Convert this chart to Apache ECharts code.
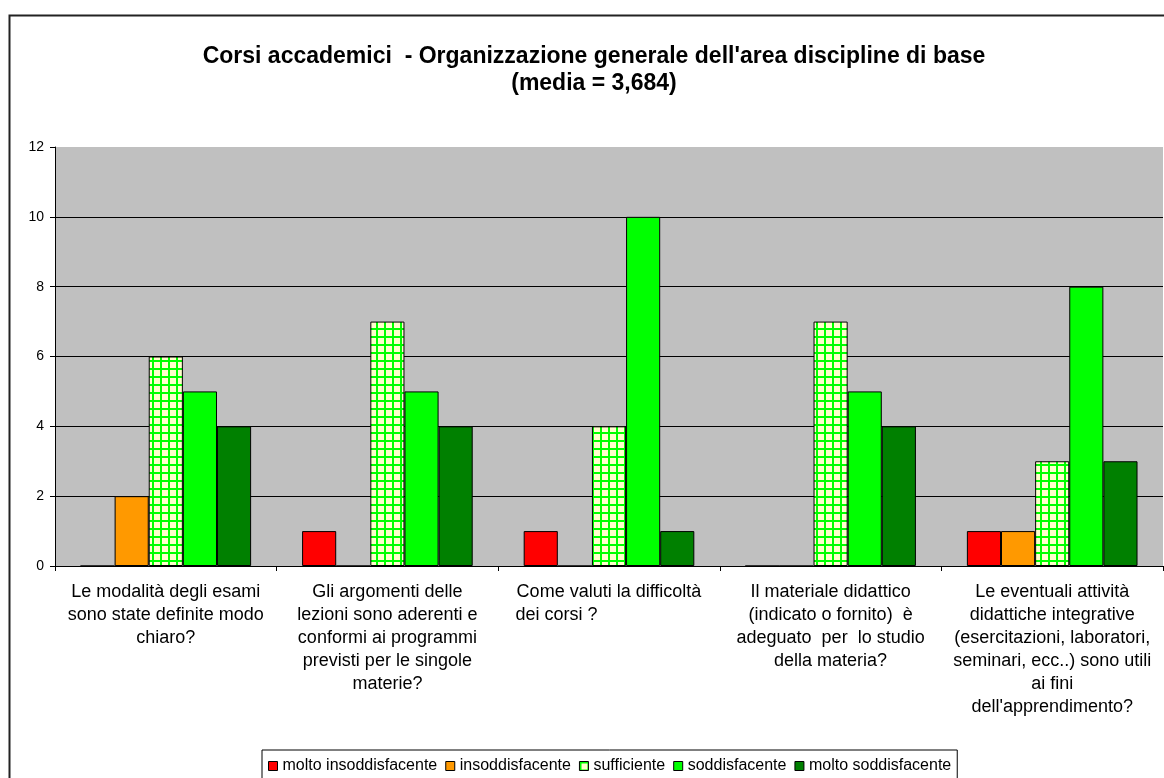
<!DOCTYPE html>
<html>
<head>
<meta charset="utf-8">
<title>Corsi accademici</title>
<script src="https://cdn.jsdelivr.net/npm/echarts@6.0.0/dist/echarts.min.js"></script>
<style>
  html, body { margin: 0; padding: 0; background: #fff; }
  #main { width: 1164px; height: 778px; }
</style>
</head>
<body>
<div id="main"></div>
<script>
// categorie (domande)
const categories = [
  'Le modalità degli esami\nsono state definite modo\nchiaro?',
  'Gli argomenti delle\nlezioni sono aderenti e\nconformi ai programmi\nprevisti per le singole\nmaterie?',
  'Come valuti la difficoltà\ndei corsi ?                     ',
  'Il materiale didattico\n(indicato o fornito)  è\nadeguato  per  lo studio\ndella materia?',
  'Le eventuali attività\ndidattiche integrative\n(esercitazioni, laboratori,\nseminari, ecc..) sono utili\nai fini\ndell\'apprendimento?'
]
const seriesNames = ['molto insoddisfacente', 'insoddisfacente', 'sufficiente', 'soddisfacente', 'molto soddisfacente']
const moltoInsoddisfacente = [0, 1, 1, 0, 1]
const insoddisfacente = [2, 0, 0, 0, 1]
const sufficiente = [6, 7, 4, 7, 3]
const soddisfacente = [5, 5, 10, 5, 8]
const moltoSoddisfacente = [4, 4, 1, 4, 3]
const yTicks = [0, 2, 4, 6, 8, 10, 12]

// trama a quadretti per "sufficiente"
function gridPattern () {
  const c = document.createElement('canvas')
  c.width = 8
  c.height = 8
  const ctx = c.getContext('2d')
  ctx.fillStyle = '#ffffcc'
  ctx.fillRect(0, 0, 8, 8)
  ctx.fillStyle = '#00ff00'
  ctx.fillRect(0, 0, 2, 8)
  ctx.fillRect(0, 0, 8, 2)
  return { image: c, repeat: 'repeat' }
}

const font = '"Liberation Sans", Arial, sans-serif'
const myChart = echarts.init(document.getElementById('main'))

function barSeries (name, data, color) {
  return {
    name: name,
    type: 'bar',
    data: data,
    barGap: '0%',
    barCategoryGap: '23%',
    itemStyle: { color: color, borderColor: '#000', borderWidth: 1 },
    emphasis: { disabled: true }
  }
}

const option = {
  backgroundColor: '#fff',
  animation: false,
  title: {
    text: 'Corsi accademici  - Organizzazione generale dell\'area discipline di base\n(media = 3,684)',
    left: 594,
    textAlign: 'center',
    top: 43,
    padding: 0,
    textStyle: {
      fontFamily: font,
      fontSize: 23,
      fontWeight: 'bold',
      color: '#000',
      lineHeight: 27
    }
  },
  graphic: [{
    type: 'rect',
    left: 7,
    top: 13,
    silent: true,
    shape: { width: 1300, height: 900 },
    style: { fill: 'none', stroke: '#222', lineWidth: 2 }
  }],
  legend: {
    left: 262,
    top: 750,
    padding: [8, 6, 10, 6],
    borderColor: '#000',
    borderWidth: 1,
    icon: 'rect',
    itemWidth: 9,
    itemHeight: 9,
    itemGap: 8,
    itemStyle: { borderColor: '#000', borderWidth: 1 },
    textStyle: { fontFamily: font, fontSize: 16, color: '#000' },
    data: seriesNames
  },
  grid: {
    left: 55,
    right: 1,
    top: 147,
    bottom: 212,
    show: true,
    backgroundColor: '#c0c0c0',
    borderWidth: 0
  },
  xAxis: {
    type: 'category',
    data: categories,
    axisLine: { lineStyle: { color: '#000', width: 1 } },
    axisTick: { show: true, length: 5, lineStyle: { color: '#000' } },
    axisLabel: {
      interval: 0,
      margin: 15,
      fontFamily: font,
      fontSize: 18,
      lineHeight: 23,
      color: '#000'
    }
  },
  yAxis: {
    type: 'value',
    min: 0,
    max: 12,
    interval: 2,
    axisLine: { show: true, lineStyle: { color: '#000', width: 1 } },
    axisTick: { show: true, length: 5, lineStyle: { color: '#000' } },
    axisLabel: {
      margin: 11,
      fontFamily: font,
      fontSize: 14,
      color: '#000',
      formatter: function (v) { return yTicks.indexOf(v) >= 0 ? String(v) : '' }
    },
    splitLine: { show: true, showMaxLine: false, lineStyle: { color: '#000', width: 1 } }
  },
  series: [
    barSeries(seriesNames[0], moltoInsoddisfacente, '#ff0000'),
    barSeries(seriesNames[1], insoddisfacente, '#ff9900'),
    barSeries(seriesNames[2], sufficiente, gridPattern()),
    barSeries(seriesNames[3], soddisfacente, '#00ff00'),
    barSeries(seriesNames[4], moltoSoddisfacente, '#008000')
  ]
}
option && myChart.setOption(option)
</script>
</body>
</html>
